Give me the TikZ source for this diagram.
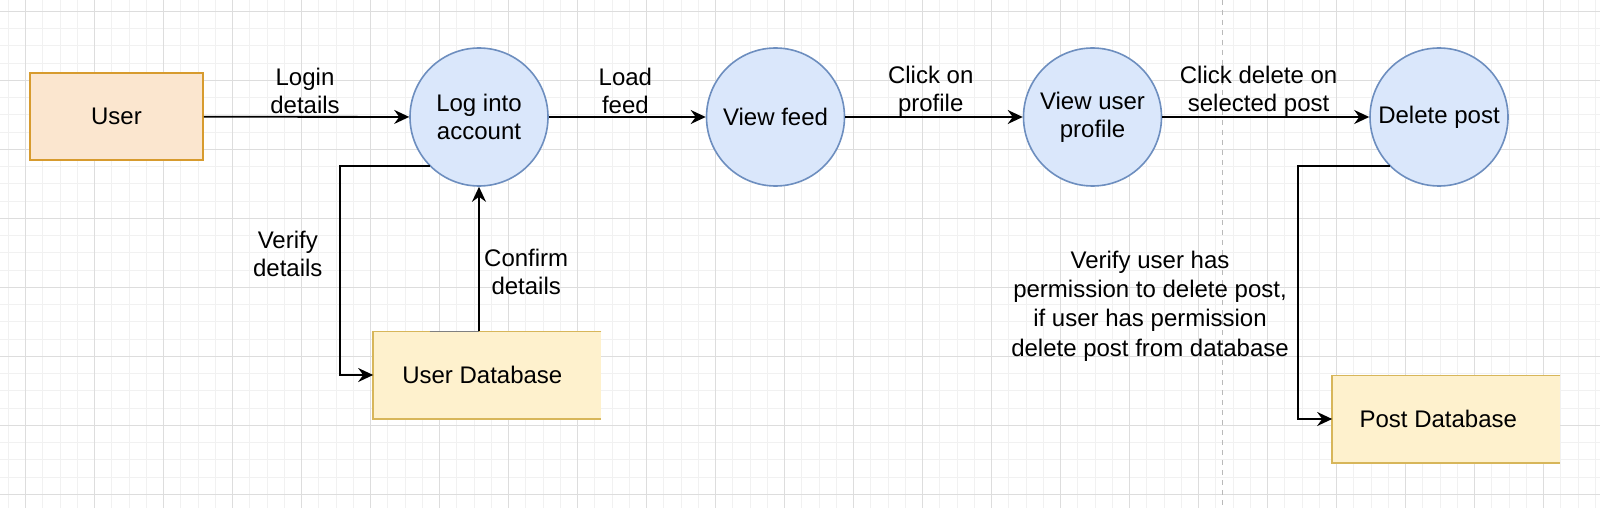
\documentclass[tikz,border=0pt]{standalone}
\usepackage{fontspec}
\setmainfont{Liberation Sans}
\usetikzlibrary{arrows.meta,calc}
\definecolor{entityfill}{HTML}{FBE6CF}
\definecolor{entitydraw}{HTML}{D79B2E}
\definecolor{processfill}{HTML}{DAE7FB}
\definecolor{processdraw}{HTML}{6D8EBF}
\definecolor{storefill}{HTML}{FEF1CD}
\definecolor{storedraw}{HTML}{D7B65A}
\definecolor{minorgrid}{HTML}{F1F1F1}
\definecolor{majorgrid}{HTML}{DDDDDD}

\begin{document}
\begin{tikzpicture}[x=0.5pt,y=-0.5pt,every node/.style={align=center,font=\fontsize{12}{14}\selectfont},
	entity/.style={draw=entitydraw,fill=entityfill,line width=0.8pt,minimum width=86.5pt,minimum height=43.5pt,inner sep=0pt},
	process/.style={circle,draw=processdraw,fill=processfill,line width=0.8pt,minimum size=69pt,inner sep=0pt},
	store/.style={fill=storefill,minimum width=113.75pt,minimum height=43.3pt,inner sep=0pt},
	storeline/.style={draw=storedraw,line width=0.8pt},
	flow/.style={draw,line width=0.9pt,-{Stealth[length=7.5pt,width=7pt,inset=2.5pt]}},
	lbl/.style={inner sep=0pt}]
	\useasboundingbox[fill=white] (0,0) rectangle (1600,508);
	% grid
	\foreach \i in {0,...,92} {\draw[minorgrid,line width=0.5pt] ({8.45+17.25*\i},0) -- ++(0,508);}
	\foreach \i in {0,...,28} {\draw[minorgrid,line width=0.5pt] (0,{11.3+17.25*\i}) -- ++(1600,0);}
	\foreach \i in {0,...,22} {\draw[majorgrid,line width=0.5pt] ({25.7+69*\i},0) -- ++(0,508);}
	\foreach \i in {0,...,7} {\draw[majorgrid,line width=0.5pt] (0,{11.3+69*\i}) -- ++(1600,0);}
	\draw[gray!55,line width=0.5pt,dash pattern=on 2.5pt off 2.5pt] (1222.5,0) -- (1222.5,508);

	\node[entity] (user) at (116.5,116.7) {User};
	\node[process] (login) at (479,117) {Log into\\account};
	\node[process] (feed) at (775.5,117) {View feed};
	\node[process] (profile) at (1092.5,117) {View user\\profile};
	\node[process] (delete) at (1439,117) {Delete post};
	\node[store] (userdb) at (487.3,375) {\hspace*{-5pt}User Database};
	\node[store] (postdb) at (1446.3,419) {\hspace*{-8pt}Post Database};
	\draw[storeline] (userdb.north east) -- (userdb.north west) -- (userdb.south west) -- (userdb.south east);
	\draw[storeline] (postdb.north east) -- (postdb.north west) -- (postdb.south west) -- (postdb.south east);
	\draw[gray,line width=0.8pt] ($(userdb.north west)+(56.5,0)$) -- (userdb.north -| login.south);

	\draw[flow] (user) -- (login);
	\draw[flow] (login) -- (feed);
	\draw[flow] (feed) -- (profile);
	\draw[flow] (profile) -- (delete);
	\draw[flow] (login.south west) -- ++(-90,0) |- (userdb.west);
	\draw[flow] (userdb.north -| login.south) -- (login.south);
	\draw[flow] (delete.south west) -- ++(-92,0) |- (postdb.west);

	\node[lbl] (loginlbl) at (305,91) {Login\\details};
	\node[lbl] (loadlbl) at (625.4,91) {Load\\feed};
	\node[lbl] (clicklbl) at (930.7,91) {Click on\\profile};
	\node[lbl] (deletelbl) at (1258.6,91) {Click delete on\\selected post};
	\node[lbl] (verifylbl) at (287.8,254) {Verify\\details};
	\node[lbl] (confirmlbl) at (526.2,272) {Confirm\\details};
	\node[lbl,font=\fontsize{12}{14.7}\selectfont] (permlbl) at (1150,306) {Verify user has\\permission to delete post,\\if user has permission\\delete post from database};
\end{tikzpicture}
\end{document}
